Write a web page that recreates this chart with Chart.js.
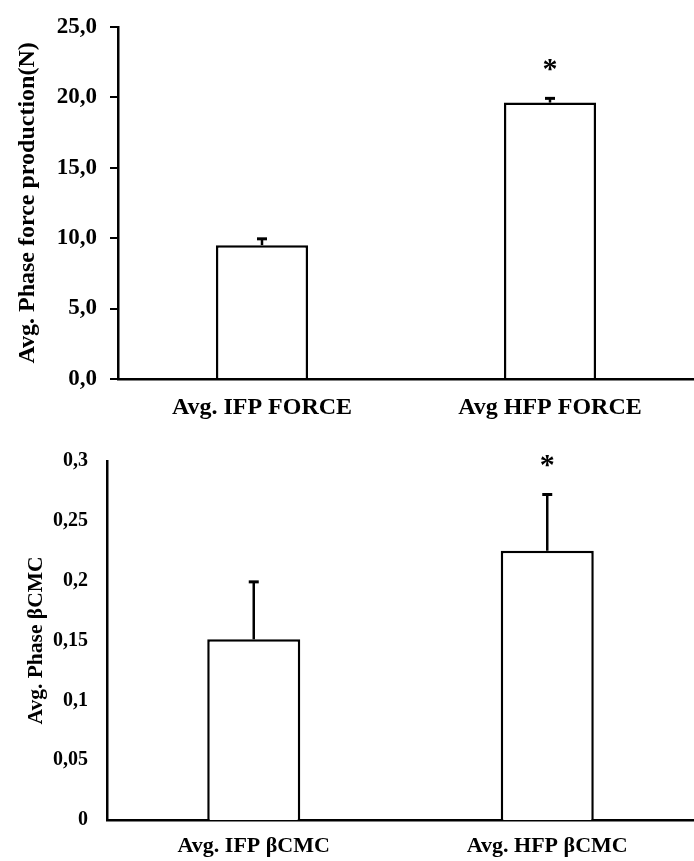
<!DOCTYPE html>
<html lang="en">
<head>
    <meta charset="UTF-8">
    <title>Avg. Phase force production and βCMC</title>
    <script src="https://cdn.jsdelivr.net/npm/chart.js"></script>
    <style>
        body {
            margin: 0;
            background: #fff;
        }
        canvas {
            display: block;
        }
    </style>
</head>
<body>
    <canvas id="forceChart" width="694" height="430"></canvas>
    <canvas id="cmcChart" width="694" height="431"></canvas>

    <script>
        // data
        const forceLabels = ['Avg. IFP FORCE', 'Avg HFP FORCE'];
        const forceMeans = [9.5, 19.62];
        const forceErrors = [0.45, 0.3];
        const forceTicks = { min: 0, max: 25, step: 5 };

        const cmcLabels = ['Avg. IFP βCMC', 'Avg. HFP βCMC'];
        const cmcMeans = [0.151, 0.225];
        const cmcErrors = [0.048, 0.047];
        const cmcTicks = { min: 0, max: 0.3, step: 0.05 };

        const significant = [false, true];

        const FONT = "'Liberation Serif', 'Times New Roman', serif";

        // upper error bar + significance star
        const errorBars = {
            id: 'errorBars',
            afterDatasetsDraw(chart, args, opts) {
                const ctx = chart.ctx;
                const yScale = chart.scales.y;
                const meta = chart.getDatasetMeta(0);
                ctx.save();
                ctx.strokeStyle = '#000';
                meta.data.forEach((bar, i) => {
                    const top = yScale.getPixelForValue(opts.means[i] + opts.errors[i]);
                    ctx.lineWidth = 2.5;
                    ctx.beginPath();
                    ctx.moveTo(bar.x, bar.y);
                    ctx.lineTo(bar.x, top);
                    ctx.stroke();
                    ctx.lineWidth = 3;
                    ctx.beginPath();
                    ctx.moveTo(bar.x - 5, top);
                    ctx.lineTo(bar.x + 5, top);
                    ctx.stroke();
                    if (opts.stars[i]) {
                        ctx.fillStyle = '#000';
                        ctx.font = 'bold 30px ' + FONT;
                        ctx.textAlign = 'center';
                        ctx.textBaseline = 'middle';
                        ctx.fillText('*', bar.x, top - opts.starGap);
                    }
                });
                ctx.restore();
            }
        };

        function makeChart(id, cfg) {
            return new Chart(document.getElementById(id), {
                type: 'bar',
                data: {
                    labels: cfg.labels,
                    datasets: [{
                        data: cfg.means,
                        backgroundColor: '#fff',
                        borderColor: '#000',
                        borderWidth: 2.5,
                        barPercentage: cfg.barPct,
                        categoryPercentage: 1
                    }]
                },
                options: {
                    responsive: false,
                    animation: false,
                    layout: { padding: { top: cfg.top, right: 0, bottom: 0, left: 0 } },
                    plugins: {
                        legend: { display: false },
                        tooltip: { enabled: false },
                        errorBars: {
                            means: cfg.means,
                            errors: cfg.errors,
                            stars: significant,
                            starGap: cfg.starGap
                        }
                    },
                    scales: {
                        x: {
                            grid: { display: false, drawTicks: false },
                            border: { color: '#000', width: 2.5 },
                            ticks: {
                                color: '#000',
                                padding: cfg.xPad,
                                font: { family: FONT, size: cfg.xSize, weight: 'bold' }
                            },
                            afterFit: s => { s.height = cfg.xHeight; }
                        },
                        y: {
                            min: cfg.ticks.min,
                            max: cfg.ticks.max,
                            grid: {
                                drawOnChartArea: false,
                                drawTicks: cfg.tickMarks,
                                display: cfg.tickMarks,
                                tickLength: 8,
                                color: '#000',
                                lineWidth: 2
                            },
                            border: { color: '#000', width: 2.5 },
                            ticks: {
                                stepSize: cfg.ticks.step,
                                color: '#000',
                                padding: cfg.yPad,
                                font: { family: FONT, size: cfg.ySize, weight: 'bold' },
                                callback: cfg.format
                            },
                            title: {
                                display: true,
                                text: cfg.title,
                                color: '#000',
                                padding: { top: cfg.titlePad, bottom: 0 },
                                font: { family: FONT, size: cfg.titleSize, weight: 'bold' }
                            },
                            afterFit: s => { s.width = cfg.yWidth; }
                        }
                    }
                },
                plugins: [errorBars]
            });
        }

        makeChart('forceChart', {
            labels: forceLabels,
            means: forceMeans,
            errors: forceErrors,
            ticks: forceTicks,
            barPct: 0.32,
            top: 22,
            xHeight: 51,
            xPad: 14,
            xSize: 24,
            yWidth: 118,
            yPad: 13,
            ySize: 23,
            tickMarks: true,
            starGap: 28,
            title: 'Avg. Phase force production(N)',
            titleSize: 24,
            titlePad: 13,
            format: v => v.toFixed(1).replace('.', ',')
        });

        makeChart('cmcChart', {
            labels: cmcLabels,
            means: cmcMeans,
            errors: cmcErrors,
            ticks: cmcTicks,
            barPct: 0.317,
            top: 27,
            xHeight: 41,
            xPad: 13,
            xSize: 22,
            yWidth: 107,
            yPad: 19,
            ySize: 20,
            tickMarks: false,
            starGap: 28,
            title: 'Avg. Phase βCMC',
            titleSize: 21.5,
            titlePad: 24,
            format: v => String(Number(v.toFixed(2))).replace('.', ',')
        });
    </script>
</body>
</html>
